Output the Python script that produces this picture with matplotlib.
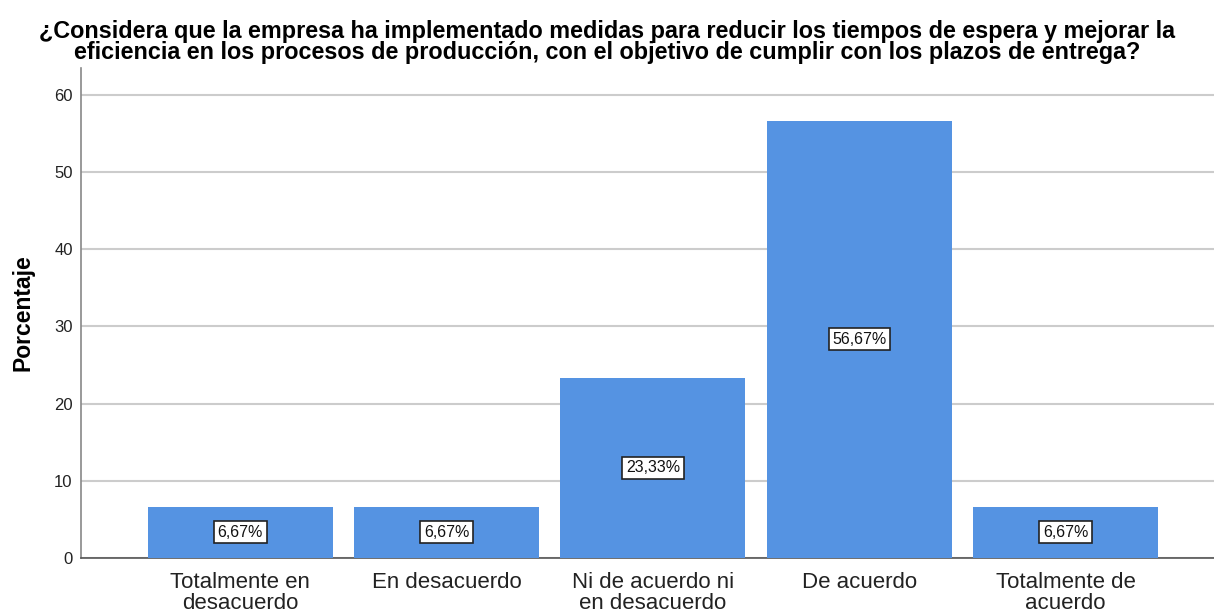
import matplotlib.pyplot as plt

# Survey answers and their percentages
categorias = ['Totalmente en\ndesacuerdo', 'En desacuerdo', 'Ni de acuerdo ni\nen desacuerdo',
              'De acuerdo', 'Totalmente de\nacuerdo']
porcentajes = [6.67, 6.67, 23.33, 56.67, 6.67]
etiquetas = ['6,67%', '6,67%', '23,33%', '56,67%', '6,67%']
titulo = ('¿Considera que la empresa ha implementado medidas para reducir los tiempos de espera y mejorar la\n'
          'eficiencia en los procesos de producción, con el objetivo de cumplir con los plazos de entrega?')

plt.rcParams['font.family'] = ['Liberation Sans', 'DejaVu Sans']

fig = plt.figure(figsize=(12.14, 6.15), dpi=100)
ax = fig.add_axes([0.0667, 0.0927, 0.9333, 0.797])

posiciones = list(range(len(categorias)))
ax.bar(posiciones, porcentajes, width=0.897, color='#5593E2', zorder=3)

# Value boxes in the middle of each bar
for x, v, t in zip(posiciones, porcentajes, etiquetas):
    ax.text(x, v / 2, t, ha='center', va='center', fontsize=11.5, zorder=4, color='#111111',
            bbox=dict(boxstyle='square,pad=0.22', facecolor='white', edgecolor='#222222', linewidth=1.2))

ax.set_xlim(-0.773, 4.72)
ax.set_ylim(0, 63.5)
ax.set_yticks([0, 10, 20, 30, 40, 50, 60])
ax.yaxis.grid(True, color='#cccccc', linewidth=1.5, zorder=0)
ax.set_xticks(posiciones)
ax.set_xticklabels(categorias, fontsize=16, color='#222222', linespacing=1.0)
ax.tick_params(axis='both', length=0)
ax.tick_params(axis='y', labelsize=12, pad=6, colors='#222222')
ax.tick_params(axis='x', pad=10)

for lado in ['top', 'right']:
    ax.spines[lado].set_visible(False)
ax.spines['left'].set_color('#888888')
ax.spines['bottom'].set_color('#555555')
ax.spines['left'].set_linewidth(1.2)
ax.spines['bottom'].set_linewidth(1.2)

ax.set_ylabel('Porcentaje', fontsize=16.5, fontweight='bold', labelpad=14)
fig.suptitle(titulo, fontsize=16.8, fontweight='bold', y=0.968, linespacing=0.93)

fig.savefig('out.png', dpi=100)
